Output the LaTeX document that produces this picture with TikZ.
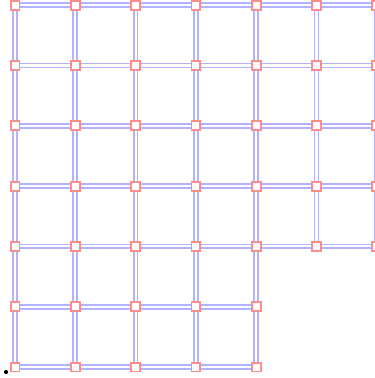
\documentclass[tikz,border=0pt]{standalone}
\usetikzlibrary{backgrounds}
\tikzset{
  gridpt/.style={rectangle, draw=red!45, fill=white, line width=0.9pt,
    minimum size=4.2pt, inner sep=0pt},
  gridln/.style={draw=blue!30, double=white, double distance=1pt, line width=0.85pt}
}

\begin{document}
\begin{tikzpicture}
  \useasboundingbox (-0.249,-0.182) rectangle (5.954,6.086);

  % Grid points (lower right corner left out)
  \foreach \i in {0,...,6}{
    \foreach \j in {0,...,6}{
      \pgfmathtruncatemacro\gone{(\i>4)&&(\j<2)}
      \ifnum\gone=0
        \node[gridpt] (n-\i-\j) at (\i,\j) {};
      \fi
    }
  }

  % Small marker near the origin
  \node[circle, fill=black, inner sep=0.7pt] (mark) at (-0.149,-0.083) {};

  % Grid lines
  \begin{scope}[on background layer]
    \foreach \i in {0,...,5}{
      \foreach \j in {0,...,6}{
        \pgfmathtruncatemacro\hok{(\i<4)||(\j>1)}
        \ifnum\hok=1
          \draw[gridln] (n-\i-\j.center) -- (n-\the\numexpr\i+1\relax-\j.center);
        \fi
      }
    }
    \foreach \i in {0,...,6}{
      \foreach \j in {0,...,5}{
        \pgfmathtruncatemacro\vok{(\i<5)||(\j>1)}
        \ifnum\vok=1
          \draw[gridln] (n-\i-\j.center) -- (n-\i-\the\numexpr\j+1\relax.center);
        \fi
      }
    }
  \end{scope}
\end{tikzpicture}
\end{document}
